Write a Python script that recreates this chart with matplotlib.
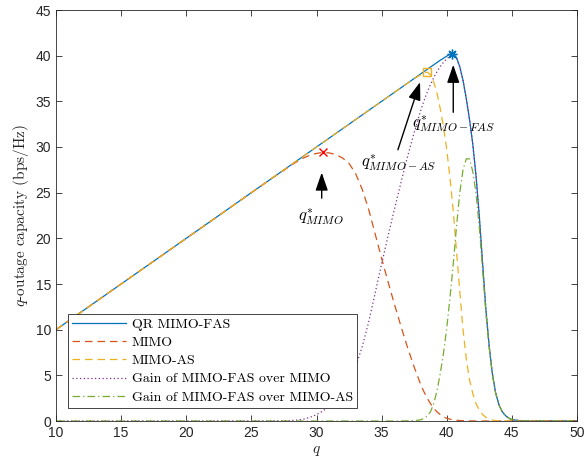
import matplotlib
matplotlib.use('Agg')
import matplotlib.pyplot as plt

plt.rcParams['mathtext.fontset'] = 'cm'
plt.rcParams['font.family'] = ['Liberation Sans', 'DejaVu Sans']

# ---- data ----
q = [10, 27, 27.5, 28, 28.5, 29, 29.5, 30, 30.5, 31, 31.5, 32, 32.5, 33, 33.5, 34, 34.5,
     35, 35.5, 36, 36.5, 37, 37.5, 38, 38.25, 38.5, 38.75, 39, 39.25, 39.5, 39.75, 40,
     40.25, 40.5, 40.75, 41, 41.25, 41.5, 41.75, 42, 42.25, 42.5, 42.75, 43, 43.25, 43.5,
     43.75, 44, 44.25, 44.5, 44.75, 45, 45.5, 46, 50]

cap_fas = [10, 27, 27.5, 28, 28.5, 29, 29.5, 30, 30.5, 31, 31.5, 32, 32.5, 33, 33.5, 34, 34.5,
           35, 35.5, 36, 36.5, 37, 37.5, 38, 38.25, 38.5, 38.75, 39, 39.25, 39.5, 39.72, 39.95,
           40.15, 40.2, 39.8, 38.8, 37.3, 35.3, 33.0, 30.3, 26.8, 22.4, 17.3, 12.3, 8.3, 5.2,
           3.1, 1.8, 1.05, 0.6, 0.32, 0.16, 0.05, 0.01, 0]

cap_mimo = [10, 27, 27.45, 27.95, 28.4, 28.8, 29.1, 29.3, 29.4, 29.35, 29.15, 28.8, 28.2, 27.1,
            25.4, 23.2, 20.5, 17.8, 15.2, 12.7, 10.3, 8.0, 5.9, 4.0, 3.2, 2.5, 1.9, 1.4, 1.0,
            0.7, 0.45, 0.3, 0.2, 0.13, 0.08, 0.05, 0.03, 0.02, 0.01, 0.01, 0, 0, 0, 0, 0, 0,
            0, 0, 0, 0, 0, 0, 0, 0, 0]

cap_as = [10, 27, 27.5, 28, 28.5, 29, 29.5, 30, 30.5, 31, 31.5, 32, 32.5, 33, 33.5, 34, 34.5,
          35, 35.5, 36, 36.5, 37, 37.5, 37.9, 38.1, 38.2, 37.9, 37.1, 35.9, 34.2, 32.2, 29.7,
          26.6, 23.0, 18.6, 14.2, 10.0, 6.8, 4.5, 3.0, 1.9, 1.2, 0.7, 0.4, 0.2, 0.1, 0.05,
          0.02, 0, 0, 0, 0, 0, 0, 0]

gain_mimo = [0, 0.02, 0.03, 0.05, 0.1, 0.2, 0.4, 0.7, 1.1, 1.65, 2.35, 3.2, 4.3, 5.9, 8.1, 10.8,
             14.0, 17.2, 20.3, 23.3, 26.2, 29.0, 31.6, 34.0, 35.05, 36.0, 36.85, 37.6, 38.25,
             38.8, 39.27, 39.65, 39.95, 40.07, 39.72, 38.75, 37.27, 35.28, 32.99, 30.29, 26.8,
             22.4, 17.3, 12.3, 8.3, 5.2, 3.1, 1.8, 1.05, 0.6, 0.32, 0.16, 0.05, 0.01, 0]

gain_as = [0, 0, 0, 0, 0, 0, 0, 0, 0, 0, 0, 0, 0, 0, 0, 0, 0, 0, 0, 0, 0, 0.02, 0.05, 0.12, 0.3,
           0.55, 1.0, 1.9, 3.3, 5.2, 7.4, 10.2, 13.5, 17.2, 21.3, 25.0, 27.5, 28.7, 28.7, 27.3,
           24.9, 21.2, 16.6, 11.9, 8.1, 5.1, 3.05, 1.78, 1.05, 0.6, 0.32, 0.16, 0.05, 0.01, 0]

peak_mimo = (30.5, 29.4)
peak_as = (38.5, 38.2)
peak_fas = (40.4, 40.2)

labels = ['QR MIMO-FAS', 'MIMO', 'MIMO-AS', 'Gain of MIMO-FAS over MIMO',
          'Gain of MIMO-FAS over MIMO-AS']

c_blue = '#0072BD'
c_red = '#D95319'
c_yel = '#EDB120'
c_pur = '#7E2F8E'
c_grn = '#77AC30'

fig = plt.figure(figsize=(5.85, 4.65), dpi=100)
ax = fig.add_axes([56/585, 44/465, 521/585, 411/465])

lw = 0.9
ax.plot(q, cap_fas, '-', color=c_blue, lw=lw, label=labels[0])
ax.plot(q, cap_mimo, color=c_red, lw=lw, dashes=(6, 4), label=labels[1])
ax.plot(q, cap_as, color=c_yel, lw=lw, dashes=(6, 4), label=labels[2])
ax.plot(q, gain_mimo, color=c_pur, lw=lw, dashes=(1, 2), label=labels[3])
ax.plot(q, gain_as, color=c_grn, lw=lw, dashes=(6, 2.5, 1, 2.5), label=labels[4])

ax.plot([peak_mimo[0]], [peak_mimo[1]], 'x', color='red', ms=6, mew=1)
ax.plot([peak_as[0]], [peak_as[1]], 's', mfc='none', mec=c_yel, ms=6, mew=1)
ax.plot([peak_fas[0]], [peak_fas[1]], marker=(8, 2, 0), color=c_blue, ms=7, mew=1, ls='none')

aprops = dict(arrowstyle='-|>,head_length=1.1,head_width=0.38', color='k', lw=1,
              shrinkA=0, shrinkB=0)
tfs = 12
ax.annotate('', xy=(30.4, 27.2), xytext=(30.4, 24.4), arrowprops=aprops)
ax.text(30.35, 23.4, r'$q^{*}_{MIMO}$', fontsize=tfs, ha='center', va='top')
ax.annotate('', xy=(37.95, 37.1), xytext=(36.25, 29.7), arrowprops=aprops)
ax.text(36.3, 29.3, r'$q^{*}_{MIMO-AS}$', fontsize=tfs, ha='center', va='top')
ax.annotate('', xy=(40.5, 39.0), xytext=(40.5, 33.8), arrowprops=aprops)
ax.text(40.5, 33.6, r'$q^{*}_{MIMO-FAS}$', fontsize=tfs, ha='center', va='top')

ax.set_xlim(10, 50)
ax.set_ylim(0, 45)
ax.set_xticks(range(10, 51, 5))
ax.set_yticks(range(0, 46, 5))
ax.tick_params(direction='in', length=4, width=0.6, colors='0.15', labelsize=10,
               top=True, right=True, labelcolor='0.15')
for s in ax.spines.values():
    s.set_color('0.15')
    s.set_linewidth(0.6)

ax.set_xlabel(r'$q$', fontsize=11, color='0.15', labelpad=3)
ax.set_ylabel(r'$q$-outage capacity (bps/Hz)', fontsize=11, color='0.15',
              family=['cmr10', 'DejaVu Serif'], labelpad=3)

leg = ax.legend(loc='lower left', bbox_to_anchor=(0.023, 0.032), borderaxespad=0,
                prop={'family': ['cmr10', 'DejaVu Serif'], 'size': 10},
                fancybox=False, edgecolor='0.15', framealpha=1, handlelength=3.9,
                handletextpad=0.4, labelspacing=0.4, borderpad=0.3)
leg.get_frame().set_linewidth(0.6)

fig.savefig('out.png', dpi=100)
